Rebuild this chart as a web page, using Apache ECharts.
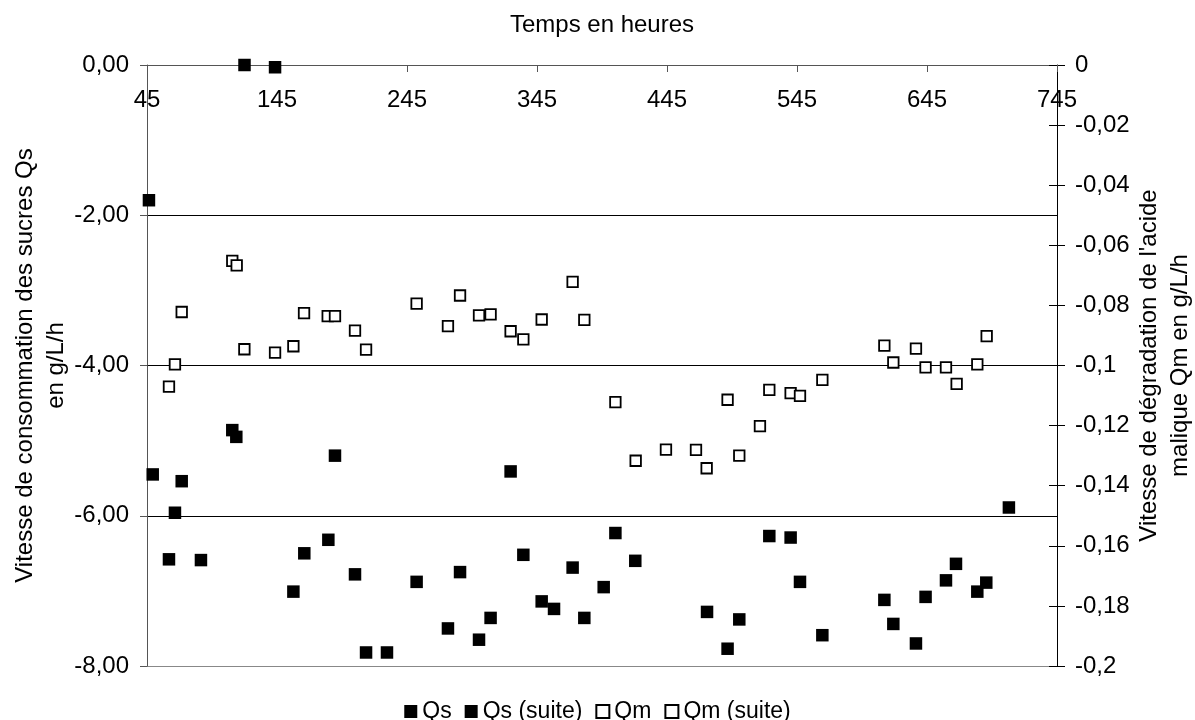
<!DOCTYPE html>
<html><head><meta charset="utf-8">
<script src="https://cdn.jsdelivr.net/npm/echarts@6/dist/echarts.min.js"></script>
<style>html,body{margin:0;padding:0;background:#fff}#c{width:1195px;height:720px}</style>
</head><body><div id="c"></div>
<script>
// Time (hours) and rates
const qsX = [46.5, 49.4, 61.9, 66.5, 71.7, 86.5, 110.6, 113.7, 120.0, 143.5, 157.6, 166.0, 184.5, 189.6, 205.0, 213.5, 229.6, 252.4, 276.5, 285.8, 300.4, 309.3, 324.7, 334.5, 348.6, 358.1, 372.4, 381.4, 396.3];
const qsY = [-1.80, -5.45, -6.58, -5.96, -5.54, -6.59, -4.86, -4.95, 0.00, -0.03, -7.01, -6.50, -6.32, -5.20, -6.78, -7.82, -7.82, -6.88, -7.50, -6.75, -7.65, -7.36, -5.41, -6.52, -7.14, -7.24, -6.69, -7.36, -6.95];
const qsSuiteX = [405.3, 420.6, 475.8, 491.6, 500.6, 523.7, 540.1, 547.3, 564.5, 612.2, 619.1, 636.5, 643.9, 659.6, 667.3, 683.7, 690.6, 708.0];
const qsSuiteY = [-6.23, -6.60, -7.28, -7.77, -7.38, -6.27, -6.29, -6.88, -7.59, -7.12, -7.44, -7.70, -7.08, -6.86, -6.64, -7.01, -6.89, -5.89];
const qmX = [61.9, 66.5, 71.7, 110.6, 114.0, 119.9, 143.5, 157.6, 165.8, 184.0, 189.6, 205.0, 213.5, 252.4, 276.5, 285.8, 300.4, 309.3, 324.7, 334.5, 348.6, 372.4, 381.4];
const qmY = [-0.1070, -0.0996, -0.0822, -0.0652, -0.0667, -0.0946, -0.0957, -0.0936, -0.0826, -0.0836, -0.0836, -0.0884, -0.0947, -0.0794, -0.0869, -0.0767, -0.0833, -0.0830, -0.0886, -0.0913, -0.0847, -0.0722, -0.0848];
const qmSuiteX = [405.3, 420.9, 444.2, 467.3, 475.5, 491.6, 500.6, 516.5, 523.7, 540.1, 547.3, 564.5, 612.2, 619.1, 636.5, 643.9, 659.6, 667.8, 683.7, 690.9];
const qmSuiteY = [-0.1122, -0.1317, -0.1280, -0.1281, -0.1342, -0.1114, -0.1300, -0.1202, -0.1081, -0.1092, -0.1101, -0.1048, -0.0934, -0.0990, -0.0944, -0.1006, -0.1006, -0.1061, -0.0996, -0.0902];

const seriesNames = ['Qs', 'Qs (suite)', 'Qm', 'Qm (suite)'];
const xTitle = 'Temps en heures';
const leftTitle = 'Vitesse de consommation des sucres Qs\nen g/L/h';
const rightTitle = "Vitesse de dégradation de l'acide\nmalique Qm en g/L/h";

const zip = (xs, ys) => xs.map((x, i) => [x, ys[i]]);
const FONT = '"Liberation Sans", Arial, sans-serif';
const FS = 24;
const leftFmt = v => Math.abs(v) < 1e-9 ? '0,00' : v.toFixed(2).replace('.', ',');
const rightFmt = v => Math.abs(v) < 1e-9 ? '0' : String(parseFloat(v.toFixed(2))).replace('.', ',');

const filled = {color: '#000', opacity: 1};
const open = {color: '#fff', borderColor: '#000', borderWidth: 1.8, opacity: 1};

const chart = echarts.init(document.getElementById('c'), null, {renderer: 'canvas'});
chart.setOption({
  animation: false,
  textStyle: {fontFamily: FONT, color: '#000'},
  grid: {left: 147, right: 138, top: 65, bottom: 54, containLabel: false, outerBoundsMode: 'none'},
  legend: {
    top: 695, left: 'center', itemWidth: 13, itemHeight: 13, itemGap: 13,
    textStyle: {fontSize: 23, color: '#000', fontFamily: FONT},
    data: seriesNames.map(n => ({name: n, icon: 'rect'}))
  },
  xAxis: {
    type: 'value', position: 'top', min: 45, max: 745, interval: 100,
    name: xTitle, nameLocation: 'middle', nameGap: 28, nameMoveOverlap: false,
    nameTextStyle: {fontSize: FS, color: '#000', fontFamily: FONT},
    axisLine: {onZero: false, lineStyle: {color: '#555', width: 1}},
    axisTick: {inside: true, length: 7, lineStyle: {color: '#555'}},
    axisLabel: {inside: true, margin: 23, fontSize: FS, color: '#000', fontFamily: FONT, showMinLabel: true, showMaxLabel: true},
    splitLine: {show: false}
  },
  yAxis: [
    {
      type: 'value', position: 'left', min: -8, max: 0, interval: 2,
      name: leftTitle, nameLocation: 'middle', nameRotate: 90, nameGap: 75, nameMoveOverlap: false,
      nameTextStyle: {fontSize: FS, lineHeight: 31, color: '#000', fontFamily: FONT},
      axisLine: {show: true, onZero: false, lineStyle: {color: '#555'}},
      axisTick: {show: true, length: 7, lineStyle: {color: '#555'}},
      axisLabel: {formatter: leftFmt, fontSize: FS, color: '#000', margin: 18, fontFamily: FONT},
      splitLine: {show: true, lineStyle: {color: ['#888', '#000', '#000', '#000', '#555'], width: 1}}
    },
    {
      type: 'value', position: 'right', min: -0.2, max: 0, interval: 0.02,
      name: rightTitle, nameLocation: 'middle', nameRotate: 90, nameGap: 77, nameMoveOverlap: false,
      nameTextStyle: {fontSize: FS, lineHeight: 31, color: '#000', fontFamily: FONT},
      axisLine: {show: true, onZero: false, lineStyle: {color: '#000'}},
      axisTick: {show: true, length: 8, lineStyle: {color: '#000'}},
      axisLabel: {formatter: rightFmt, fontSize: FS, color: '#000', margin: 18, fontFamily: FONT},
      splitLine: {show: false}
    },
    {
      type: 'value', position: 'right', min: -0.2, max: 0, interval: 0.02,
      axisLine: {show: false},
      axisTick: {show: true, inside: true, length: 8, lineStyle: {color: '#000'}},
      axisLabel: {show: false},
      splitLine: {show: false}
    }
  ],
  series: [
    {name: seriesNames[0], type: 'scatter', yAxisIndex: 0, symbol: 'rect', symbolSize: 12.5, itemStyle: filled, clip: false, data: zip(qsX, qsY), z: 3},
    {name: seriesNames[1], type: 'scatter', yAxisIndex: 0, symbol: 'rect', symbolSize: 12.5, itemStyle: filled, clip: false, data: zip(qsSuiteX, qsSuiteY), z: 3},
    {name: seriesNames[2], type: 'scatter', yAxisIndex: 1, symbol: 'rect', symbolSize: 10.5, itemStyle: open, clip: false, data: zip(qmX, qmY), z: 2},
    {name: seriesNames[3], type: 'scatter', yAxisIndex: 1, symbol: 'rect', symbolSize: 10.5, itemStyle: open, clip: false, data: zip(qmSuiteX, qmSuiteY), z: 2}
  ]
});
</script></body></html>
